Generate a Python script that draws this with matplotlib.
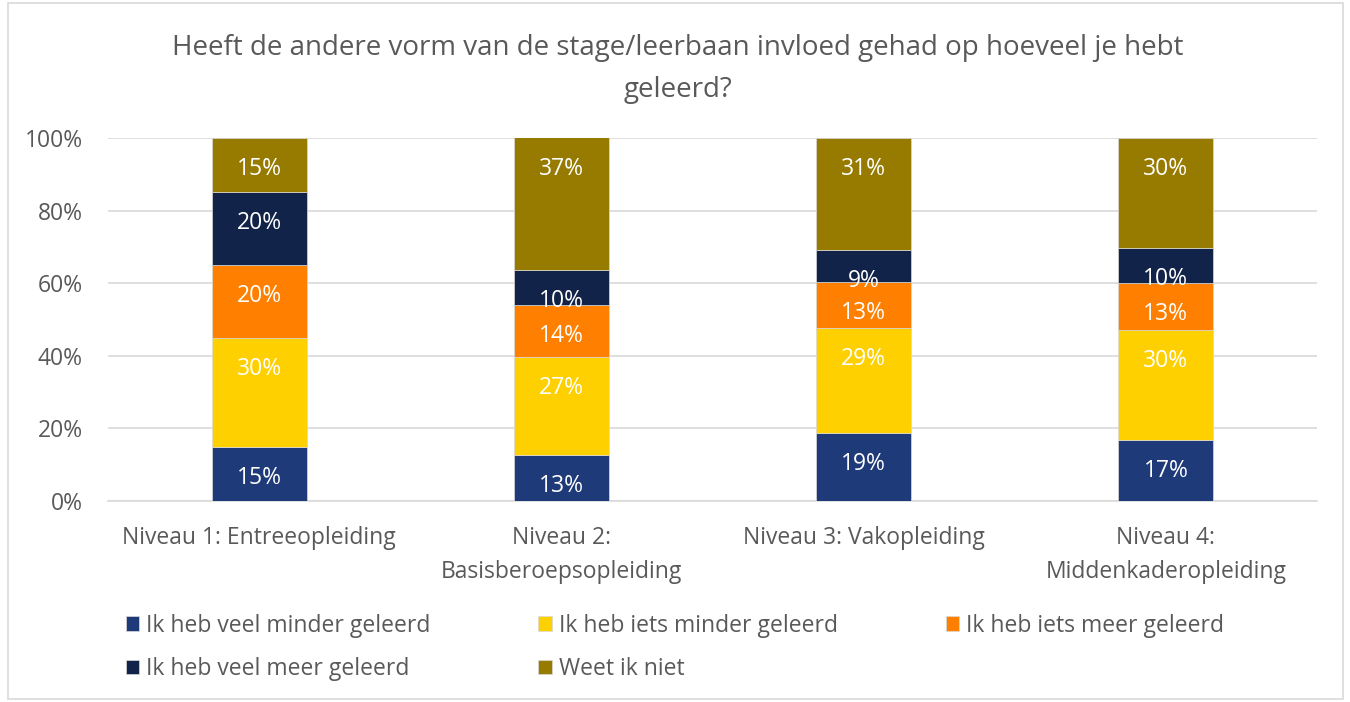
import numpy as np
import matplotlib.pyplot as plt
from matplotlib.patches import Rectangle

plt.rcParams['font.family'] = ['Open Sans', 'DejaVu Sans']

## Data (percent per level)
levels = ["Niveau 1: Entreeopleiding", "Niveau 2:\nBasisberoepsopleiding",
          "Niveau 3: Vakopleiding", "Niveau 4:\nMiddenkaderopleiding"]
series = ["Ik heb veel minder geleerd", "Ik heb iets minder geleerd",
          "Ik heb iets meer geleerd", "Ik heb veel meer geleerd", "Weet ik niet"]
veel_minder = [15.0, 12.7, 18.7, 16.8]
iets_minder = [30.0, 27.0, 29.0, 30.4]
iets_meer = [20.0, 14.4, 12.7, 12.8]
veel_meer = [20.0, 9.6, 8.8, 9.7]
weet_niet = [15.0, 36.6, 30.8, 30.3]
yticks = [0, 20, 40, 60, 80, 100]

colors = ["#1E3A78", "#FFD000", "#FF8000", "#12234A", "#967B00"]
grey = "#595959"
fs = 16.5

fig = plt.figure(figsize=(13.5, 7.02), dpi=100)
fig.patches.append(Rectangle((0.006, 0.004), 0.989, 0.992, transform=fig.transFigure,
                             fill=False, edgecolor="#D9D9D9", linewidth=1.2))
ax = fig.add_axes([108/1350, 1-501/702, 1209/1350, 363/702])

x = np.arange(len(levels))
bottom = np.zeros(len(levels))
handles = []
for vals, name, col in zip([veel_minder, iets_minder, iets_meer, veel_meer, weet_niet], series, colors):
    vals = np.array(vals)
    bars = ax.bar(x, vals, 0.315, bottom=bottom, color=col, label=name,
                  edgecolor="#D9D9D9", linewidth=0.5, zorder=3)
    handles.append(bars)
    for xi, top, v in zip(x, bottom + vals, vals):
        # Excel "inside end" labels
        ax.annotate("%.0f%%" % v, (xi, min(top, 100)), xytext=(0, -31), textcoords="offset pixels",
                    ha="center", va="center", color="white", fontsize=fs, zorder=4)
    bottom += vals

ax.set_xlim(-0.5, 3.5)
ax.set_ylim(0, 100)
ax.set_yticks(yticks)
ax.set_yticklabels(["%d%%" % t for t in yticks], fontsize=fs, color=grey)
ax.set_xticks(x)
ax.set_xticklabels(levels, fontsize=fs, color=grey, linespacing=1.55)
ax.tick_params(length=0)
ax.tick_params(axis="x", pad=18)
ax.tick_params(axis="y", pad=18)
ax.grid(axis="y", color="#D9D9D9", linewidth=1.2, zorder=0)
for s in ["top", "right", "left"]:
    ax.spines[s].set_visible(False)
ax.spines["bottom"].set_color("#D9D9D9")
ax.spines["bottom"].set_linewidth(1.2)

fig.text(0.502, 1-69/702, "Heeft de andere vorm van de stage/leerbaan invloed gehad op hoeveel je hebt\ngeleerd?",
         ha="center", va="center", fontsize=20, color=grey, linespacing=1.65)

# reorder so the legend fills row by row
order = [0, 3, 1, 4, 2]
fig.legend([handles[i] for i in order], [series[i] for i in order], ncol=3,
           loc="upper left", bbox_to_anchor=(105/1350, 1-593/702), frameon=False,
           fontsize=fs, labelcolor=grey, handlelength=0.6, handleheight=0.6,
           handletextpad=0.3, columnspacing=4.7, labelspacing=0.85)

fig.savefig("out.png", dpi=100)
